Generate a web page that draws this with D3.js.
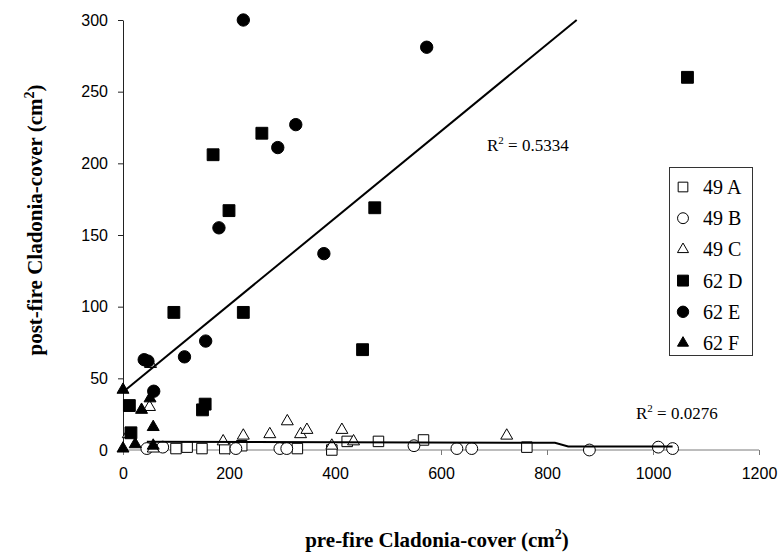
<!DOCTYPE html>
<html>
<head>
<meta charset="utf-8">
<script src="https://cdn.jsdelivr.net/npm/d3@7"></script>
<style>
  html, body { margin: 0; padding: 0; background: #fff; }
  svg { display: block; }
</style>
</head>
<body>
<svg id="chart" width="782" height="552"></svg>
<script>
// Cladonia cover before and after fire, by plot (cm²)
const seriesNames = ["49 A", "49 B", "49 C", "62 D", "62 E", "62 F"];

const s49A = [[100,1],[121,2],[149,1],[192,1],[224,3],[329,1],[394,0],[423,6],[482,6],[567,7],[762,2]];
const s49B = [[45,1],[75,2],[213,1],[296,1],[309,1],[549,3],[630,1],[658,1],[880,0],[1010,2],[1037,1]];
const s49C = [[10,11],[50,30],[52,60],[57,1],[189,6],[227,10],[277,11],[310,20],[335,11],[347,14],[394,3],[413,14],[435,6],[724,10]];
const s62D = [[1065,260],[262,221],[170,206],[200,167],[475,169],[96,96],[227,96],[452,70],[150,28],[155,32],[12,31],[15,12]];
const s62E = [[227,300],[573,281],[326,227],[292,211],[181,155],[379,137],[156,76],[116,65],[40,63],[47,62],[58,41]];
const s62F = [[0,42],[35,28],[51,36],[57,16],[23,4],[0,1],[57,3]];

// fitted trend lines (vertices in data units) and their R² labels
const trendHigh = [[0,40.5],[856,300]];
const trendLow  = [[45,5.8],[815,5.0],[840,2.5],[1037,2.5]];
const r2High = "0.5334";
const r2Low  = "0.0276";

const xTicks = [0,200,400,600,800,1000,1200];
const yTicks = [0,50,100,150,200,250,300];

const svg = d3.select("#chart");
const x = d3.scaleLinear().domain([0,1200]).range([123,759]);
const y = d3.scaleLinear().domain([0,300]).range([450,20]);

const sans = "'Liberation Sans', Arial, sans-serif";
const serif = "'Liberation Serif', 'Times New Roman', serif";

// axes
const gx = svg.append("g").attr("transform", "translate(0,450)")
  .call(d3.axisBottom(x).tickValues(xTicks).tickSize(5).tickSizeOuter(0).tickPadding(13).tickFormat(d3.format("d")));
gx.selectAll("path, line").attr("stroke", "#7a7a7a");
gx.selectAll("text").attr("font-family", sans).attr("font-size", 16).attr("fill", "#000");

const gy = svg.append("g").attr("transform", "translate(123,0)")
  .call(d3.axisLeft(y).tickValues(yTicks).tickSize(5).tickSizeOuter(0).tickPadding(10).tickFormat(d3.format("d")));
gy.selectAll("path, line").attr("stroke", "#222");
gy.selectAll("text").attr("font-family", sans).attr("font-size", 16).attr("fill", "#000");
gx.select(".domain").remove();
gx.append("line").attr("x1", x(0)).attr("x2", x(1200)).attr("y1", 0).attr("y2", 0).attr("stroke", "#7a7a7a");

// marker styles per series
const series = [
  {name: seriesNames[0], data: s49A, type: d3.symbolSquare,   size: 110, fill: "#fff"},
  {name: seriesNames[1], data: s49B, type: d3.symbolCircle,   size: 110, fill: "#fff"},
  {name: seriesNames[2], data: s49C, type: d3.symbolTriangle, size: 62,  fill: "#fff"},
  {name: seriesNames[3], data: s62D, type: d3.symbolSquare,   size: 140, fill: "#000"},
  {name: seriesNames[4], data: s62E, type: d3.symbolCircle,   size: 120, fill: "#000"},
  {name: seriesNames[5], data: s62F, type: d3.symbolTriangle, size: 62,  fill: "#000"}
];

series.forEach(s => {
  const sym = d3.symbol().type(s.type).size(s.size);
  svg.append("g").selectAll("path").data(s.data).join("path")
    .attr("d", sym)
    .attr("transform", d => `translate(${x(d[0])},${y(d[1])})`)
    .attr("fill", s.fill)
    .attr("stroke", "#000")
    .attr("stroke-width", 1);
});

// trend lines
const line = d3.line().x(d => x(d[0])).y(d => y(d[1]));
[trendHigh, trendLow].forEach(t => {
  svg.append("path").datum(t).attr("d", line)
    .attr("fill", "none").attr("stroke", "#000").attr("stroke-width", 2);
});

function r2Label(px, py, val) {
  const t = svg.append("text").attr("x", px).attr("y", py)
    .attr("font-family", serif).attr("font-size", 17).attr("fill", "#000");
  t.append("tspan").text("R");
  t.append("tspan").attr("font-size", 11).attr("dy", -7).text("2");
  t.append("tspan").attr("dy", 7).text(" = " + val);
}
r2Label(487, 151, r2High);
r2Label(636, 419, r2Low);

// legend
const lg = svg.append("g");
lg.append("rect").attr("x", 669.5).attr("y", 167.5).attr("width", 83).attr("height", 188)
  .attr("fill", "#fff").attr("stroke", "#333").attr("stroke-width", 1);
series.forEach((s, i) => {
  const cy = 187 + i * 31.2;
  lg.append("path")
    .attr("d", d3.symbol().type(s.type).size(s.size * 0.85))
    .attr("transform", `translate(683,${cy})`)
    .attr("fill", s.fill).attr("stroke", "#000").attr("stroke-width", 1);
  lg.append("text").attr("x", 703).attr("y", cy).attr("dy", "0.35em")
    .attr("font-family", serif).attr("font-size", 20).attr("fill", "#000").text(s.name);
});

// axis titles
const xt = svg.append("text").attr("x", 437).attr("y", 547).attr("text-anchor", "middle")
  .attr("font-family", serif).attr("font-size", 21).attr("font-weight", "bold").attr("fill", "#000");
xt.append("tspan").text("pre-fire Cladonia-cover (cm");
xt.append("tspan").attr("font-size", 14).attr("dy", -8).text("2");
xt.append("tspan").attr("dy", 8).text(")");

const yt = svg.append("text").attr("transform", "translate(42,220) rotate(-90)").attr("text-anchor", "middle")
  .attr("font-family", serif).attr("font-size", 21).attr("font-weight", "bold").attr("fill", "#000");
yt.append("tspan").text("post-fire Cladonia-cover (cm");
yt.append("tspan").attr("font-size", 14).attr("dy", -8).text("2");
yt.append("tspan").attr("dy", 8).text(")");
</script>
</body>
</html>
